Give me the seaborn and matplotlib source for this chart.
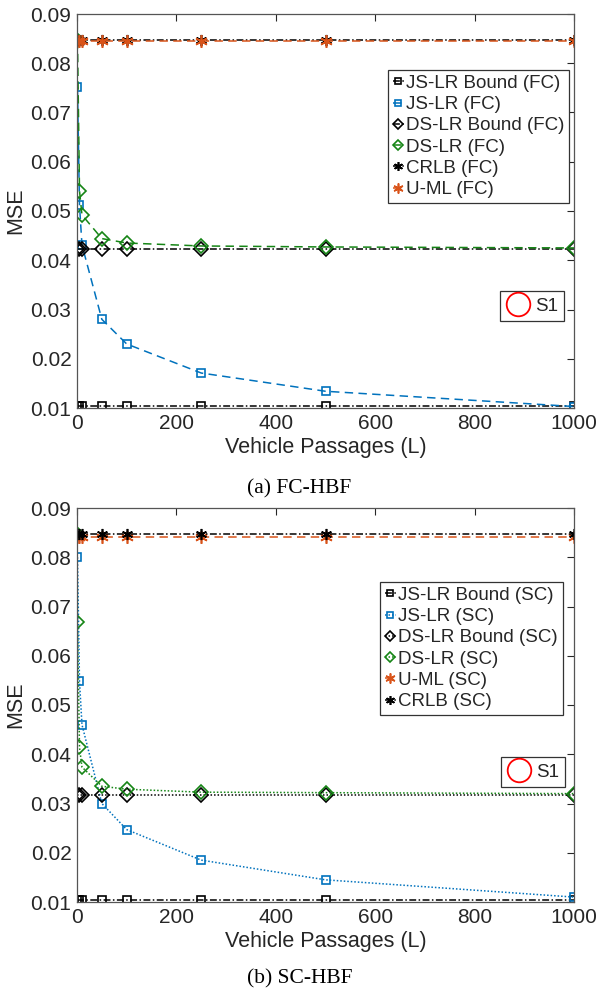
import matplotlib
matplotlib.use("Agg")
import matplotlib.pyplot as plt
from matplotlib.lines import Line2D
import seaborn as sns
import numpy as np

# ---- data ----
L = [1, 5, 10, 50, 100, 250, 500, 1000]
L_ds_sc = [0, 1, 5, 10, 50, 100, 250, 500, 1000]

# (a) FC-HBF
js_bound_fc = [0.0104] * len(L)
js_lr_fc = [0.0752, 0.0512, 0.0431, 0.0280, 0.0230, 0.0171, 0.0134, 0.0103]
ds_bound_fc = [0.0423] * len(L)
ds_lr_fc = [0.0847, 0.0541, 0.0492, 0.0444, 0.0435, 0.0429, 0.0427, 0.0425]
crlb_fc = [0.0847] * len(L)
uml_fc = [0.0846] * len(L)

# (b) SC-HBF
js_bound_sc = [0.0104] * len(L)
js_lr_sc = [0.0800, 0.0548, 0.0460, 0.0300, 0.0247, 0.0185, 0.0145, 0.0110]
ds_bound_sc = [0.0317] * len(L)
ds_lr_sc = [0.0847, 0.0668, 0.0414, 0.0374, 0.0335, 0.0329, 0.0323, 0.0322, 0.0320]
uml_sc = [0.0842] * len(L)
crlb_sc = [0.0847] * len(L)

x_ticks = [0, 200, 400, 600, 800, 1000]
y_ticks = [0.01, 0.02, 0.03, 0.04, 0.05, 0.06, 0.07, 0.08, 0.09]

BLUE = "#0072BD"
GREEN = "#158515"
ORANGE = "#D95319"
AST = (6, 2, 0)

sns.set_theme(style="white")
plt.rcParams["font.family"] = ["Liberation Sans", "DejaVu Sans"]
plt.rcParams["axes.edgecolor"] = "#555555"
# MATLAB-like dash patterns
plt.rcParams["lines.dashed_pattern"] = [5.5, 3.5]
plt.rcParams["lines.dashdot_pattern"] = [4.5, 1.6, 1.0, 1.6]
plt.rcParams["lines.dotted_pattern"] = [1.0, 1.3]

fig = plt.figure(figsize=(5.99, 9.94), dpi=100)
ax_a = fig.add_axes([77 / 599, 1 - 408 / 994, 497 / 599, 394 / 994])
ax_b = fig.add_axes([77 / 599, 1 - 902 / 994, 497 / 599, 394 / 994])


def draw(ax, series):
    for x, y, lab, col, ls, mk, ms in series:
        sns.lineplot(x=x, y=y, ax=ax, color=col, linestyle=ls, marker=mk,
                     markersize=ms, mfc="none", mec=col, mew=1.2, lw=1.1,
                     label=lab, legend=False, errorbar=None)


series_a = [
    (L, js_bound_fc, "JS-LR Bound (FC)", "black", "-.", "s", 6),
    (L, js_lr_fc, "JS-LR (FC)", BLUE, "--", "s", 6),
    (L, ds_bound_fc, "DS-LR Bound (FC)", "black", "-.", "D", 7),
    (L, ds_lr_fc, "DS-LR (FC)", GREEN, "--", "D", 7),
    (L, crlb_fc, "CRLB (FC)", "black", "-.", AST, 8),
    (L, uml_fc, "U-ML (FC)", ORANGE, "--", AST, 9),
]
series_b = [
    (L, js_bound_sc, "JS-LR Bound (SC)", "black", "-.", "s", 6),
    (L, js_lr_sc, "JS-LR (SC)", BLUE, ":", "s", 6),
    (L, ds_bound_sc, "DS-LR Bound (SC)", "black", ":", "D", 7),
    (L_ds_sc, ds_lr_sc, "DS-LR (SC)", GREEN, ":", "D", 7),
    (L, uml_sc, "U-ML (SC)", ORANGE, "--", AST, 9),
    (L, crlb_sc, "CRLB (SC)", "black", "-.", AST, 8),
]

draw(ax_a, series_a)
draw(ax_b, series_b)

legend_pos = [((388 / 599, 1 - 70 / 994), (500 / 599, 1 - 291 / 994)),
              ((380 / 599, 1 - 582 / 994), (501 / 599, 1 - 757 / 994))]
captions = ["(a) FC-HBF", "(b) SC-HBF"]
caption_y = [1 - 489 / 994, 1 - 979 / 994]

for i, ax in enumerate([ax_a, ax_b]):
    ax.set_xlim(0, 1000)
    ax.set_ylim(0.01, 0.09)
    ax.set_xticks(x_ticks)
    ax.set_yticks(y_ticks)
    ax.set_yticklabels([f"{v:.2f}" for v in y_ticks])
    ax.tick_params(direction="in", top=True, right=True, length=5, width=0.8,
                   labelsize=15, colors="#262626", pad=4)
    for sp in ax.spines.values():
        sp.set_linewidth(0.9)
        sp.set_color("#555555")
    ax.set_xlabel("Vehicle Passages (L)", fontsize=15.5, color="#262626", labelpad=3)
    ax.set_ylabel("MSE", fontsize=15.5, color="#262626", labelpad=3)

    handles, labels = ax.get_legend_handles_labels()
    leg = ax.legend(handles, labels, loc="upper left",
                    bbox_to_anchor=legend_pos[i][0], bbox_transform=fig.transFigure,
                    fontsize=13.5, frameon=True, fancybox=False, framealpha=1,
                    edgecolor="#333333", borderpad=0.25, labelspacing=0.22,
                    handlelength=0.6, handletextpad=0.12, borderaxespad=0,
                    markerscale=0.8)
    leg.get_frame().set_linewidth(0.9)
    ax.add_artist(leg)

    s1 = Line2D([], [], linestyle="none", marker="o", markersize=17,
                mfc="none", mec="red", mew=1.3)
    leg2 = ax.legend([s1], ["S1"], loc="upper left",
                     bbox_to_anchor=legend_pos[i][1], bbox_transform=fig.transFigure,
                     fontsize=13.5, frameon=True, fancybox=False, framealpha=1,
                     edgecolor="#333333", borderpad=0.35, handlelength=1.2,
                     handletextpad=0.3, borderaxespad=0)
    leg2.get_frame().set_linewidth(0.9)

    fig.text(0.5, caption_y[i], captions[i], ha="center", va="center",
             fontsize=15.5, family=["Liberation Serif", "DejaVu Serif"], color="black")

fig.savefig("out.png", dpi=100, facecolor="white")
